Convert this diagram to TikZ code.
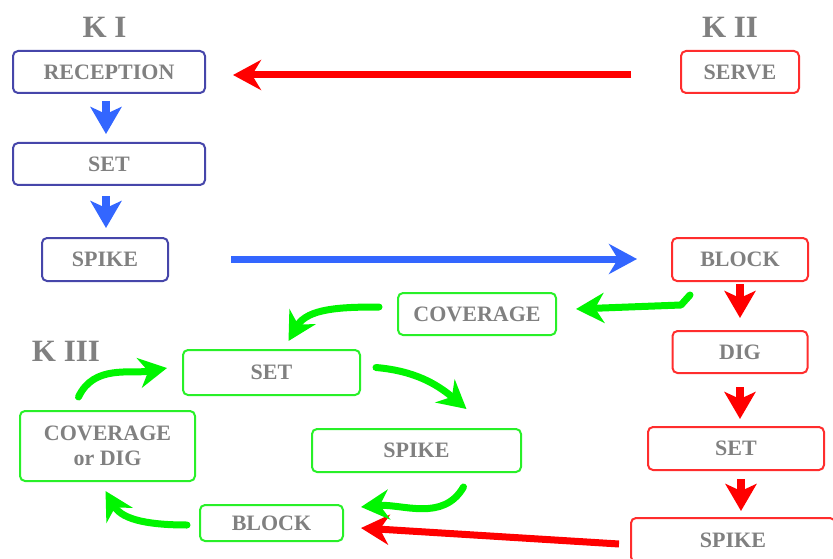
\documentclass[tikz,border=0pt]{standalone}
\usepackage{fontspec}
\setmainfont{Liberation Serif}
\usetikzlibrary{arrows.meta,calc}
\definecolor{boxblue}{RGB}{70,70,170}
\definecolor{arrblue}{RGB}{51,102,255}
\definecolor{arrred}{RGB}{255,0,0}
\definecolor{boxred}{RGB}{255,45,45}
\definecolor{arrgreen}{RGB}{0,245,0}
\definecolor{boxgreen}{RGB}{40,240,40}
\definecolor{txtgray}{RGB}{128,128,128}
\begin{document}
\begin{tikzpicture}[x=1pt,y=1pt,
  box/.style={draw=#1, line width=2pt, rounded corners=5pt, text=txtgray,
    font=\fontsize{22}{25}\selectfont\bfseries, inner sep=2pt, align=center},
  klabel/.style={text=txtgray, font=\fontsize{31}{34}\selectfont\bfseries, inner sep=0pt},
  bigtip/.style={-{Stealth[length=28pt,width=30pt,inset=9pt]}},
  longarrow/.style={draw=#1, line width=7pt, bigtip},
  curvearrow/.style={draw=arrgreen, line width=7pt, line cap=round, line join=round, bigtip},
  smallarrow/.style={draw=#1, line width=8pt, -{Stealth[length=27pt,width=31pt,inset=7pt]}}
]
\useasboundingbox (0,0) rectangle (833,-559);

% labels
\node[klabel] (k1) at (104.5,-27) {K I};
\node[klabel] (k2) at (730,-27) {K II};
\node[klabel] (k3) at (66,-351) {K III};

% K I boxes
\node[box=boxblue, minimum width=192pt, minimum height=42pt] (rec) at (109,-72) {RECEPTION};
\node[box=boxblue, minimum width=192pt, minimum height=42pt] (set1) at (109,-164) {SET};
\node[box=boxblue, minimum width=126pt, minimum height=43pt] (spk1) at (105,-259.5) {SPIKE};

% K II boxes
\node[box=boxred, minimum width=118pt, minimum height=42pt] (serve) at (740,-72) {SERVE};
\node[box=boxred, minimum width=136pt, minimum height=43pt] (blk2) at (740,-259.5) {BLOCK};
\node[box=boxred, minimum width=135pt, minimum height=42pt] (dig) at (740,-352) {DIG};
\node[box=boxred, minimum width=176pt, minimum height=43pt] (set2) at (736,-448.5) {SET};
\node[box=boxred, minimum width=204pt, minimum height=44pt] (spk2) at (733,-540) {SPIKE};

% K III boxes
\node[box=boxgreen, minimum width=158pt, minimum height=42pt] (cov) at (477,-314) {COVERAGE};
\node[box=boxgreen, minimum width=177pt, minimum height=45pt] (set3) at (271.5,-372.5) {SET};
\node[box=boxgreen, minimum width=209pt, minimum height=43pt] (spk3) at (416.5,-450.5) {SPIKE};
\node[box=boxgreen, minimum width=175pt, minimum height=70pt] (covdig) at (107.5,-446) {COVERAGE\\or DIG};
\node[box=boxgreen, minimum width=143pt, minimum height=36pt] (blk3) at (271.5,-523) {BLOCK};

% small vertical arrows
\draw[smallarrow=arrblue] ($(rec.south)+(-3,-7)$) -- ($(rec.south)+(-3,-40)$);
\draw[smallarrow=arrblue] ($(set1.south)+(-3,-10)$) -- ($(set1.south)+(-3,-42)$);
\draw[smallarrow=arrred] ($(blk2.south)+(0,-2)$) -- ($(blk2.south)+(0,-36)$);
\draw[smallarrow=arrred] ($(dig.south)+(0,-13)$) -- ($(dig.south)+(0,-45)$);
\draw[smallarrow=arrred] ($(set2.south)+(5,-8)$) -- ($(set2.south)+(5,-40)$);

% long straight arrows
\draw[longarrow=arrred] ($(serve.west)+(-49,-3)$) -- ($(rec.east)+(27,-3)$);
\draw[longarrow=arrblue] ($(spk1.east)+(62,0.5)$) -- ($(blk2.west)+(-34,0.5)$);
\draw[longarrow=arrred] ($(spk2.west)+(-11,-4)$) -- ($(blk3.east)+(17,-5)$);

% green arrows
\draw[curvearrow] ($(blk2.south)+(-50,-13)$) -- ++(-9,-10) -- ($(cov.east)+(19,5)$);
\draw[curvearrow] ($(cov.west)+(-18,7)$) to[out=180,in=60] ($(set3.north)+(17,8)$);
\draw[curvearrow] ($(set3.east)+(15,5)$) to[out=-5,in=140] ($(spk3.north)+(50,19)$);
\draw[curvearrow] ($(spk3.south)+(47,-14)$) to[out=240,in=5] ($(blk3.east)+(17,16)$);
\draw[curvearrow] ($(blk3.west)+(-12,-2)$) to[out=180,in=-60] ($(covdig.south)+(-2,-9)$);
\draw[curvearrow] ($(covdig.north)+(-29,13)$) to[out=65,in=190] ($(set3.west)+(-15,4.5)$);
\end{tikzpicture}
\end{document}
